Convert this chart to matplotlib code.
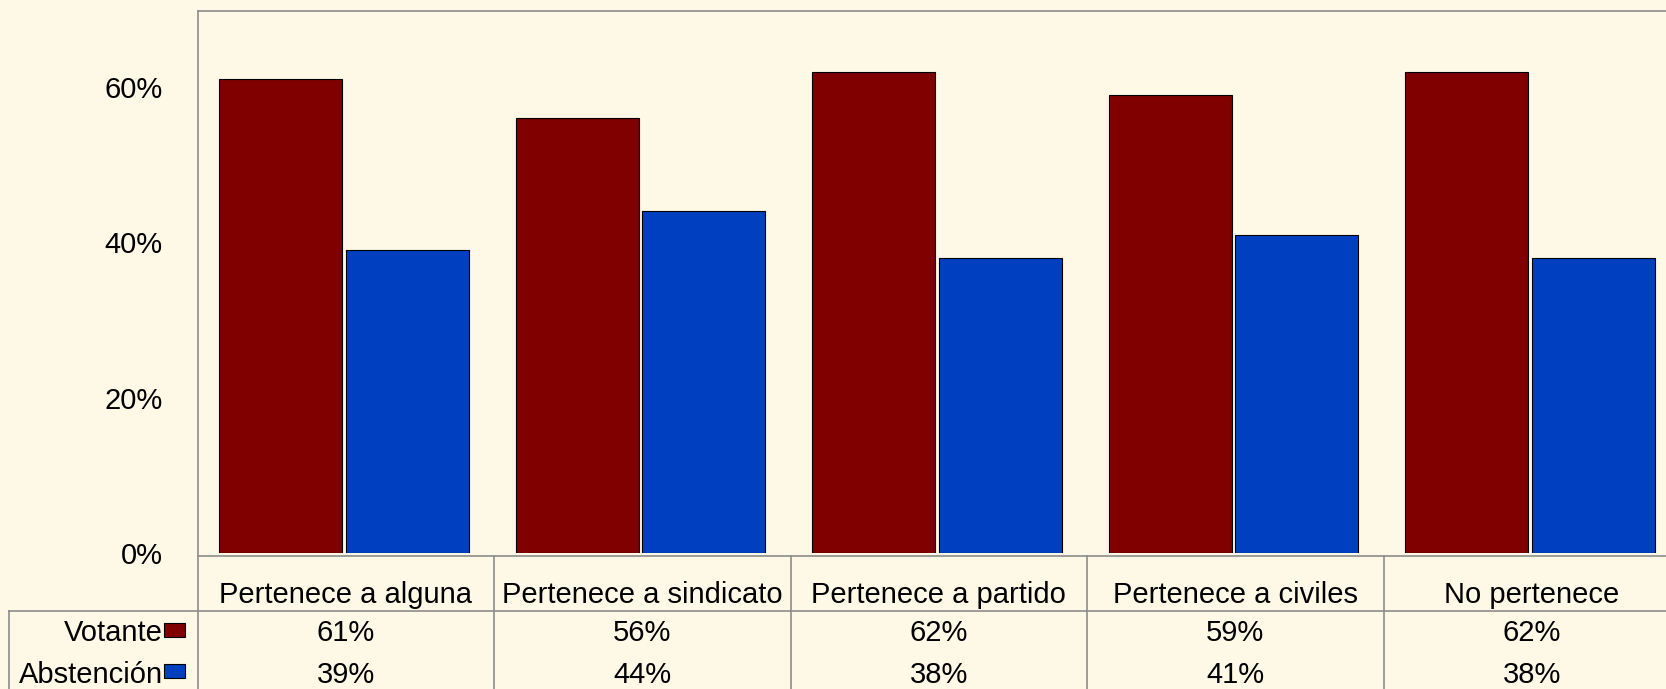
import matplotlib
matplotlib.use("Agg")
import matplotlib.pyplot as plt
from matplotlib.patches import Rectangle

categories = ["Pertenece a alguna", "Pertenece a sindicato", "Pertenece a partido",
              "Pertenece a civiles", "No pertenece"]
votante = [61, 56, 62, 59, 62]
abstencion = [39, 44, 38, 41, 38]
series_names = ["Votante", "Abstención"]
yticks = [0, 20, 40, 60]

bg = "#FEF8E6"
red = "#800000"
blue = "#0040C0"
grey = "#8C8C8C"
FS = 21

plt.rcParams['font.family'] = ['Liberation Sans', 'DejaVu Sans']
W, H = 1666, 689
fig = plt.figure(figsize=(W / 100, H / 100), dpi=100, facecolor=bg)

x0, x1 = 197.6, 1680.0
ytop, yzero, ybot = 11.0, 553.0, 556.0
ax = fig.add_axes([x0 / W, 1 - yzero / H, (x1 - x0) / W, (yzero - ytop) / H])
ax.set_facecolor(bg)

n = len(categories)
xs = list(range(n))
w = 0.415
ax.bar([x - 0.219 for x in xs], votante, width=w, color=red, edgecolor="black", linewidth=0.8, zorder=3)
ax.bar([x + 0.207 for x in xs], abstencion, width=w, color=blue, edgecolor="black", linewidth=0.8, zorder=3)

ax.set_xlim(-0.5, n - 0.5)
ax.set_ylim(0, 69.8)
ax.set_yticks(yticks)
ax.set_yticklabels([f"{t}%" for t in yticks], fontsize=FS)
ax.tick_params(axis='y', length=0, pad=25)
ax.set_xticks([])
for s in ax.spines.values():
    s.set_color(grey)
    s.set_linewidth(1.2)
ax.spines['bottom'].set_visible(False)
ax.spines['left'].set_visible(False)


def fx(px):
    return px / W


def fy(py):
    return 1 - py / H


catw = (x1 - x0) / n
fig.add_artist(plt.Line2D([fx(x0), fx(x1)], [fy(ybot), fy(ybot)], color=grey, lw=1.2))
fig.add_artist(plt.Line2D([fx(9), fx(x1)], [fy(611), fy(611)], color=grey, lw=1.2))
fig.add_artist(plt.Line2D([fx(9), fx(9)], [fy(611), fy(H + 5)], color=grey, lw=1.2))
fig.add_artist(plt.Line2D([fx(x0), fx(x0)], [fy(ytop), fy(H + 5)], color=grey, lw=1.2))
for k in range(1, n + 1):
    xp = x0 + k * catw
    fig.add_artist(plt.Line2D([fx(xp), fx(xp)], [fy(ybot), fy(H + 5)], color=grey, lw=1.2))

for k, cat in enumerate(categories):
    cx = x0 + (k + 0.5) * catw
    fig.text(fx(cx), fy(595), cat, ha="center", va="center", fontsize=FS)
    fig.text(fx(cx), fy(633), f"{votante[k]}%", ha="center", va="center", fontsize=FS)
    fig.text(fx(cx), fy(675), f"{abstencion[k]}%", ha="center", va="center", fontsize=FS)

for name, yc, ty, col in [(series_names[0], 630, 633, red), (series_names[1], 671, 675, blue)]:
    fig.text(fx(163), fy(ty), name, ha="right", va="center", fontsize=FS)
    fig.add_artist(Rectangle((fx(164), fy(yc + 7)), 21 / W, 14 / H, facecolor=col,
                             edgecolor="black", linewidth=0.8, transform=fig.transFigure))

fig.savefig("out.png", dpi=100, facecolor=bg)
